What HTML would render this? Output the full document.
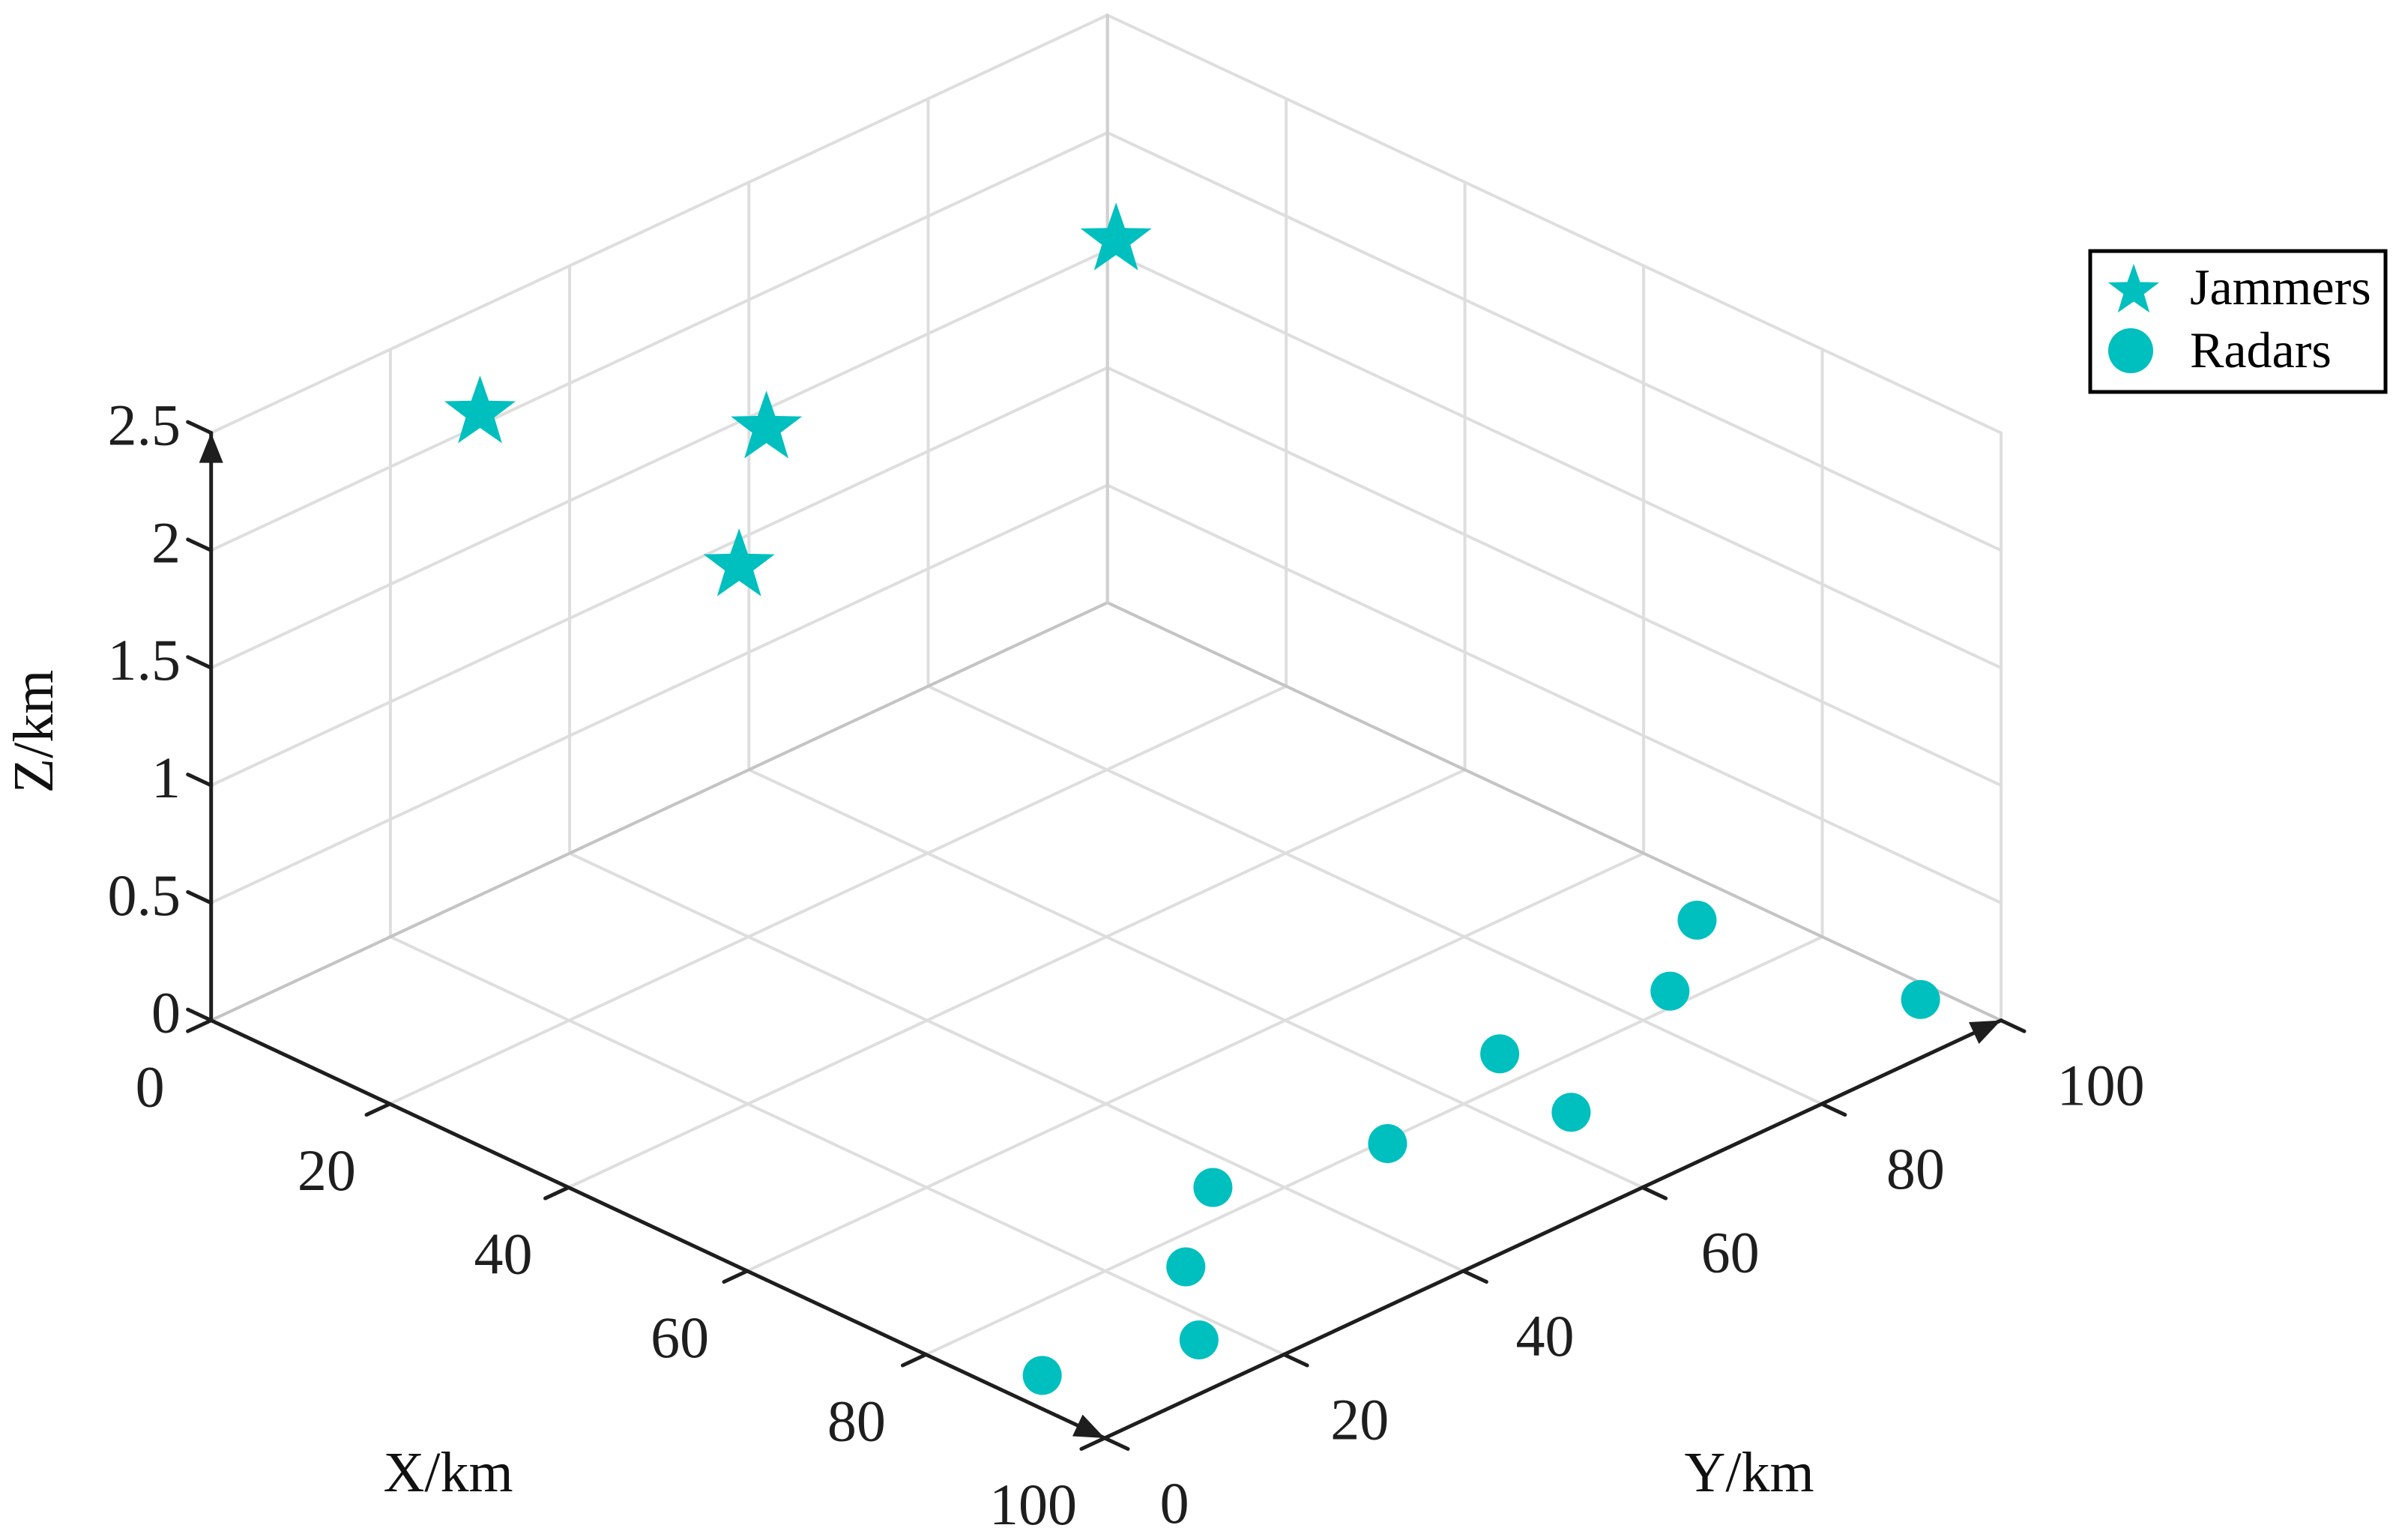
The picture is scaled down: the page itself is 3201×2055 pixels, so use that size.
<!DOCTYPE html>
<html><head><meta charset="utf-8"><style>
html,body{margin:0;padding:0;background:#fff;}
svg{display:block;font-family:"Liberation Serif","Times New Roman",serif;}
</style></head><body>
<svg id="chart" width="3201" height="2055" viewBox="0 0 3201 2055" xmlns="http://www.w3.org/2000/svg">
<g id="grid"></g>
<g id="axes"></g>
<g id="marks"></g>
<text x="598" y="1990" font-size="76" text-anchor="middle" fill="#111">X/km</text>
<text x="2334" y="1990" font-size="76" text-anchor="middle" fill="#111">Y/km</text>
<text x="0" y="0" font-size="76" text-anchor="middle" fill="#111" transform="translate(70,976) rotate(-90)">Z/km</text>
<g>
<rect x="2789" y="335" width="394" height="188" fill="#fff" stroke="#000" stroke-width="5"/>
<polygon id="lgstar" fill="#00BFBF"/>
<circle cx="2843" cy="468" r="30" fill="#00BFBF"/>
<text x="2922" y="406" font-size="68" fill="#000">Jammers</text>
<text x="2922" y="490" font-size="68" fill="#000">Radars</text>
</g>
</svg>
<script>
const xTicks=[0,20,40,60,80,100];
const yTicks=[0,20,40,60,80,100];
const zTicks=[0,0.5,1,1.5,2,2.5];
const zTickLabels=["0","0.5","1","1.5","2","2.5"];
const jammerX=[1,16,31,13];
const jammerY=[29,46,28,88];
const jammerZ=[2.1,2,2,2];
const radarX=[71,93,78,76,87,80.5,76,84,93.5,89];
const radarY=[95,98,85,68,65,51,36,25,17,4];
const radarZ=[0,0,0,0,0,0,0,0,0,0];

const NS="http://www.w3.org/2000/svg";
const O=[281.7,1361.6], XV=[11.923,5.574], YV=[11.96,-5.574], ZU=313.6;
function P(x,y,z){return [O[0]+x*XV[0]+y*YV[0], O[1]+x*XV[1]+y*YV[1]-z*ZU];}
function mk(parent,tag,attrs){const e=document.createElementNS(NS,tag);for(const k in attrs)e.setAttribute(k,attrs[k]);parent.appendChild(e);return e;}
function line(parent,a,b,col,w){return mk(parent,'line',{x1:a[0],y1:a[1],x2:b[0],y2:b[1],stroke:col,'stroke-width':w,'stroke-linecap':'round'});}
const grid=document.getElementById('grid'), axes=document.getElementById('axes'), marks=document.getElementById('marks');
const G='#dedede', zmax=zTicks[zTicks.length-1];
xTicks.forEach(x=>{const l=line(grid,P(x,0,0),P(x,100,0),G,4);});
yTicks.forEach(y=>{const l=line(grid,P(0,y,0),P(100,y,0),G,4);});
yTicks.forEach(y=>{const l=line(grid,P(0,y,0),P(0,y,zmax),G,4);});
zTicks.forEach(z=>{const l=line(grid,P(0,0,z),P(0,100,z),G,4);});
xTicks.forEach(x=>{const l=line(grid,P(x,100,0),P(x,100,zmax),G,4);});
zTicks.forEach(z=>{const l=line(grid,P(0,100,z),P(100,100,z),G,4);});
let e1=line(grid,P(0,0,0),P(0,100,0),'#c4c4c4',4);


let e2=line(grid,P(0,100,0),P(100,100,0),'#c4c4c4',4);


let e3=line(grid,P(0,100,0),P(0,100,zmax),'#d0d0d0',4);



const AC='#1e1e1e';
function arrow(tip,from,name){
  const dx=tip[0]-from[0], dy=tip[1]-from[1], L=Math.hypot(dx,dy), ux=dx/L, uy=dy/L;
  const len=40, hw=16, bx=tip[0]-ux*len, by=tip[1]-uy*len;
  const p=mk(axes,'polygon',{points:`${tip[0]},${tip[1]} ${bx-uy*hw},${by+ux*hw} ${bx+uy*hw},${by-ux*hw}`,fill:AC});
  
  
}
let ax=line(axes,P(0,0,0),P(100,0,0),AC,5);


arrow(P(100,0,0),P(0,0,0),'x-axis-arrow');
let ay=line(axes,P(100,0,0),P(100,100,0),AC,5);


arrow(P(100,100,0),P(100,0,0),'y-axis-arrow');
let az=line(axes,P(0,0,0),P(0,0,zmax),AC,5);


arrow(P(0,0,zmax),P(0,0,0),'z-axis-arrow');
function txt(x,y,s,anchor,name){const t=mk(axes,'text',{x:x,y:y,'font-size':78,'text-anchor':anchor,fill:'#1e1e1e'});t.textContent=s;return t;}
xTicks.forEach(x=>{const a=P(x,0,0),b=P(x,-2.6,0);const l=line(axes,a,b,AC,5);const q=P(x,-12,0);txt(q[0]+62-x*0.14,q[1]+48,String(x),'middle','x-tick-label');});
yTicks.forEach(y=>{const a=P(100,y,0),b=P(102.6,y,0);const l=line(axes,a,b,AC,5);const q=P(112,y,0);txt(q[0]-50+y*0.4,q[1]+46,String(y),'middle','y-tick-label');});
zTicks.forEach((z,i)=>{const a=P(0,0,z),b=P(-2.6,0,z);const l=line(axes,a,b,AC,5);txt(241,a[1]+16,zTickLabels[i],'end','z-tick-label');});

function starPts(cx,cy,R){const r=R*0.4;let s=[];for(let i=0;i<10;i++){const a=-Math.PI/2+i*Math.PI/5, rr=i%2?r:R;s.push((cx+rr*Math.cos(a)).toFixed(1)+','+(cy+rr*Math.sin(a)).toFixed(1));}return s.join(' ');}
document.getElementById('lgstar').setAttribute('points',starPts(2847,388,36));
jammerX.forEach((x,i)=>{const p=P(x,jammerY[i],jammerZ[i]);const s=mk(marks,'polygon',{points:starPts(p[0],p[1]+4,50),fill:'#00BFBF'});});
radarX.forEach((x,i)=>{const p=P(x,radarY[i],radarZ[i]);const c=mk(marks,'circle',{cx:p[0],cy:p[1],r:26,fill:'#00BFBF'});});
</script>
</body></html>
